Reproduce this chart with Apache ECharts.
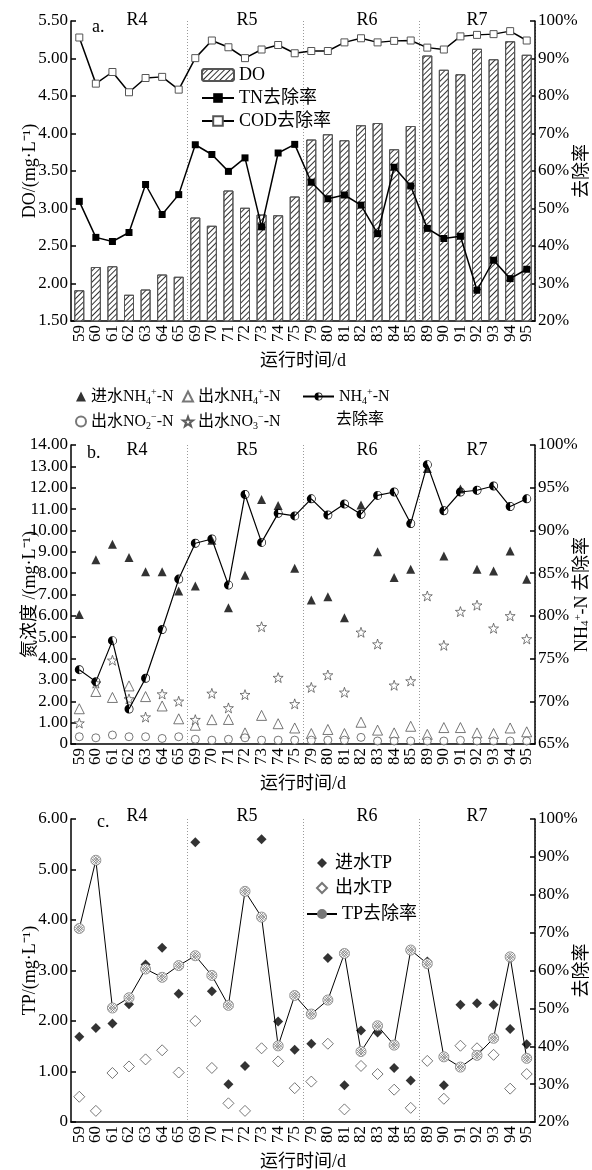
<!DOCTYPE html>
<html><head><meta charset="utf-8">
<script src="https://cdn.jsdelivr.net/npm/echarts@6/dist/echarts.min.js"></script>
<style>html,body{margin:0;padding:0;background:#fff}#c{width:592px;height:1170px}</style>
</head><body><div id="c"></div>
<script>
const days = ['59','60','61','62','63','64','65','69','70','71','72','73','74','75','79','80','81','82','83','84','85','89','90','91','92','93','94','95'];
const phases = ['R4','R5','R6','R7'];
const doValues = [1.91,2.22,2.23,1.85,1.92,2.12,2.09, 2.88,2.77,3.24,3.01,2.92,2.91,3.16, 3.92,3.99,3.91,4.11,4.14,3.79,4.10, 5.04,4.85,4.79,5.13,4.99,5.23,5.05];
const tnRemoval = [51.9,42.3,41.2,43.6,56.4,48.4,53.7, 67.0,64.4,59.9,63.5,45.1,64.8,67.1, 57.0,52.6,53.6,50.9,43.3,61.0,56.0, 44.7,42.0,42.6,28.2,36.2,31.3,33.8];
const codRemoval = [95.6,83.3,86.4,81.0,84.8,85.1,81.7, 90.1,94.8,93.0,90.1,92.4,93.6,91.4, 92.0,92.0,94.3,95.4,94.3,94.7,94.8, 92.9,92.4,95.9,96.3,96.5,97.3,94.8];
const nh4In = [6.06,8.63,9.35,8.73,8.07,8.07,7.16, 7.40,9.54,6.38,7.90,11.45,11.17,8.23, 6.74,6.90,5.91,11.19,9.00,7.80,8.18, 12.9,8.80,11.94,8.18,8.10,9.04,7.71];
const nh4Out = [1.65,2.46,2.18,2.72,2.22,1.78,1.18, 0.88,1.14,1.15,0.52,1.34,0.95,0.75, 0.49,0.68,0.49,1.02,0.65,0.52,0.83, 0.45,0.77,0.77,0.52,0.49,0.75,0.57];
const no2Out = [0.34,0.29,0.42,0.34,0.34,0.26,0.34, 0.22,0.18,0.22,0.29,0.18,0.18,0.18, 0.18,0.18,0.18,0.31,0.14,0.14,0.14, 0.14,0.14,0.17,0.14,0.14,0.14,0.14];
const no3Out = [0.98,2.85,3.92,2.11,1.26,2.34,2.00, 1.14,2.37,1.69,2.31,5.49,3.11,1.88, 2.65,3.23,2.42,5.23,4.68,2.75,2.95, 6.93,4.62,6.20,6.50,5.42,6.00,4.92];
const nh4Removal = [73.7,72.3,77.1,69.1,72.7,78.4,84.3, 88.5,89.0,83.6,94.2,88.6,92.0,91.7, 93.7,91.8,93.1,91.9,94.1,94.5,90.8, 97.7,92.3,94.5,94.7,95.2,92.8,93.7];
const tpIn = [1.69,1.86,1.95,2.33,3.12,3.45,2.54, 5.54,2.59,0.75,1.11,5.60,1.99,1.43, 1.55,3.25,0.73,1.81,1.77,1.07,0.82, 3.18,0.73,2.32,2.35,2.32,1.84,1.54];
const tpOut = [0.50,0.22,0.97,1.10,1.24,1.42,0.98, 2.00,1.07,0.37,0.22,1.46,1.20,0.67, 0.80,1.55,0.25,1.11,0.95,0.64,0.28, 1.21,0.46,1.51,1.46,1.33,0.66,0.95];
const tpRemoval = [71.1,89.1,50.1,52.8,60.4,58.2,61.3, 63.9,58.7,50.8,80.9,74.1,40.1,53.4, 48.5,52.2,64.5,38.6,45.4,40.3,65.4, 61.8,37.2,34.5,37.6,42.1,63.6,36.8];

const serif = "'Liberation Serif','Noto Sans CJK SC',serif";
const NH4 = 'NH\u2084\u207A-N', NO2 = 'NO\u2082\u207B-N', NO3 = 'NO\u2083\u207B-N';
const unit = '(mg\u00B7L\u207B\u00B9)';
const richNH4 = '{n|NH}{s|4}{p|+}{n|-N}';
const richLabel = {
  [ '进水' + NH4 ]: '{n|进水}' + richNH4,
  [ '出水' + NH4 ]: '{n|出水}' + richNH4,
  [ '出水' + NO2 ]: '{n|出水NO}{s|2}{p|\u2212}{n|-N}',
  [ '出水' + NO3 ]: '{n|出水NO}{s|3}{p|\u2212}{n|-N}',
  [ NH4 + '去除率' ]: richNH4
};
const rich = {
  n:{fontFamily:serif, fontSize:16, lineHeight:19, color:'#000'},
  s:{fontFamily:serif, fontSize:10, lineHeight:10, verticalAlign:'bottom', color:'#000'},
  p:{fontFamily:serif, fontSize:10, lineHeight:10, verticalAlign:'top', color:'#000'}
};

const boundaries = [];
for (let i = 1; i < days.length; i++) if (+days[i] - +days[i-1] > 1) boundaries.push(i);

const halfCircle = 'path://M10,0 A10,10 0 1,1 10,20 A10,10 0 1,1 10,0 Z M10,1.6 A8.4,8.4 0 1,0 10,18.4 A8.4,8.4 0 1,0 10,1.6 Z M10,1.6 A8.4,8.4 0 0,0 10,18.4 Z';
const star = 'path://M10,0.5 L12.35,7.26 L19.51,7.41 L13.8,11.74 L15.88,18.59 L10,14.5 L4.12,18.59 L6.2,11.74 L0.49,7.41 L7.65,7.26 Z';
const crossCircle = 'path://M10,0 A10,10 0 1,1 10,20 A10,10 0 1,1 10,0 Z M3,3 L17,17 M17,3 L3,17 M6,1 L19,14 M1,6 L14,19 M14,1 L1,14 M19,6 L6,19';

const grids = [{top:21,height:300},{top:445,height:299},{top:819,height:303}];
const black = '#000';
const axisLine = {show:true, lineStyle:{color:black, width:1.5}};
const tick = {show:true, inside:true, length:5, lineStyle:{color:black, width:1.5}};
const fmt2 = v => v === 0 ? '0' : v.toFixed(2);

function xAxis(g){
  return {type:'category', gridIndex:g, data:days, boundaryGap:true,
    axisLine, axisTick:{show:false},
    axisLabel:{rotate:90, interval:0, fontFamily:serif, fontSize:17, color:black, margin:4},
    splitLine:{show:true, interval:(i)=>boundaries.indexOf(i)>=0, lineStyle:{color:'#999', type:[1,2], width:1}},
    name:'运行时间/d', nameLocation:'middle', nameGap:31, nameMoveOverlap:false,
    nameTextStyle:{fontFamily:serif, fontSize:18, color:black}};
}
function yAxis(g, pos, min, max, interval, fmt, name, gap){
  return {type:'value', gridIndex:g, position:pos, min, max, interval,
    axisLine, axisTick:tick, splitLine:{show:false},
    axisLabel:{formatter:fmt, fontFamily:serif, fontSize:17, color:black, margin:3},
    name, nameLocation:'middle', nameGap:gap, nameRotate:90, nameMoveOverlap:false,
    nameTextStyle:{fontFamily:serif, fontSize:18, color:black,
      rich:{n:{fontFamily:serif, fontSize:18, color:black}, s:{fontFamily:serif, fontSize:11, verticalAlign:'bottom', lineHeight:11, color:black}, p:{fontFamily:serif, fontSize:11, verticalAlign:'top', lineHeight:11, color:black}}}};
}
const pct = v => v + '%';

const legendText = {fontFamily:serif, fontSize:18, color:black};
const richLegendText = {fontFamily:serif, fontSize:16, color:black, rich};
const graphics = [];
function txt(x, y, text, align, size){
  graphics.push({type:'text', x, y, style:{text, textAlign:align||'center', textVerticalAlign:'middle', verticalAlign:'middle', font:(size||18)+'px ' + serif, fill:black}});
}
const phaseX = [137, 247, 367, 477];
[[20,'a.',27],[450,'b.',453],[816,'c.',822]].forEach(([y, lab, ly], k) => {
  phases.forEach((p, i) => txt(phaseX[i], y, p));
  txt([92, 87, 97][k], ly, lab, 'left');
});
txt(360, 420, '去除率', 'center', 16);

const option = {
  animation:false,
  backgroundColor:'#fff',
  grid: grids.map(g => ({left:71, right:57, top:g.top, height:g.height, outerBoundsMode:'none', containLabel:false})),
  xAxis:[xAxis(0), xAxis(1), xAxis(2)],
  yAxis:[
    yAxis(0,'left',1.5,5.5,0.5,fmt2,'DO/'+unit,32),
    yAxis(0,'right',20,100,10,pct,'去除率',38),
    yAxis(1,'left',0,14,1,fmt2,'氮浓度 /'+unit,32),
    yAxis(1,'right',65,100,5,pct,'{n|NH}{s|4}{p|+}{n|-N 去除率}',38),
    yAxis(2,'left',0,6,1,fmt2,'TP/'+unit,32),
    yAxis(2,'right',20,100,10,pct,'去除率',38)
  ],
  legend:[
    {left:196, top:61, orient:'vertical', itemWidth:32, itemHeight:12, itemGap:5, data:['DO','TN去除率','COD去除率'], textStyle:legendText},
    {left:70, top:382, orient:'vertical', itemWidth:10, itemHeight:10, itemGap:6, data:['进水'+NH4,'出水'+NO2], formatter:n=>richLabel[n], textStyle:richLegendText},
    {left:177, top:382, orient:'vertical', itemWidth:10, itemHeight:10, itemGap:6, data:['出水'+NH4,'出水'+NO3], formatter:n=>richLabel[n], textStyle:richLegendText},
    {left:297, top:382, orient:'vertical', itemWidth:31, itemHeight:10, data:[NH4+'去除率'], formatter:n=>richLabel[n], textStyle:richLegendText},
    {left:311, top:849, orient:'vertical', itemWidth:10, itemHeight:10, itemGap:7, data:['进水TP','出水TP'], textStyle:Object.assign({padding:[0,0,0,3]}, legendText)},
    {left:301, top:900, orient:'vertical', itemWidth:30, itemHeight:10, data:['TP去除率'], textStyle:legendText}
  ],
  graphic: graphics,
  series:[
    {type:'bar', name:'DO', xAxisIndex:0, yAxisIndex:0, data:doValues, barWidth:10,
      itemStyle:{color:'#fff', borderColor:'#555', borderWidth:1,
        decal:{symbol:'rect', symbolSize:1, dashArrayX:[1,0], dashArrayY:[1,2.2], rotation:-Math.PI/4, color:'#333'}}},
    {type:'line', name:'TN去除率', xAxisIndex:0, yAxisIndex:1, data:tnRemoval, symbol:'rect', symbolSize:7,
      lineStyle:{color:black, width:1.5}, itemStyle:{color:black}, z:4},
    {type:'line', name:'COD去除率', xAxisIndex:0, yAxisIndex:1, data:codRemoval, symbol:'rect', symbolSize:7,
      lineStyle:{color:black, width:1.5}, itemStyle:{color:'#fff', borderColor:'#555', borderWidth:1}, z:4},

    {type:'scatter', name:'进水'+NH4, xAxisIndex:1, yAxisIndex:2, data:nh4In, symbol:'triangle', symbolSize:9, itemStyle:{color:black}},
    {type:'scatter', name:'出水'+NH4, xAxisIndex:1, yAxisIndex:2, data:nh4Out, symbol:'triangle', symbolSize:10, itemStyle:{color:'#fff', borderColor:'#555', borderWidth:1}},
    {type:'scatter', name:'出水'+NO2, xAxisIndex:1, yAxisIndex:2, data:no2Out, symbol:'circle', symbolSize:8, itemStyle:{color:'#fff', borderColor:'#555', borderWidth:1}},
    {type:'scatter', name:'出水'+NO3, xAxisIndex:1, yAxisIndex:2, data:no3Out, symbol:star, symbolSize:10, itemStyle:{color:'#fff', borderColor:'#333', borderWidth:0.8}},
    {type:'line', name:NH4+'去除率', xAxisIndex:1, yAxisIndex:3, data:nh4Removal, symbol:halfCircle, symbolSize:9,
      lineStyle:{color:black, width:1.2}, itemStyle:{color:black}, z:4},

    {type:'scatter', name:'进水TP', xAxisIndex:2, yAxisIndex:4, data:tpIn, symbol:'diamond', symbolSize:10, itemStyle:{color:black}},
    {type:'scatter', name:'出水TP', xAxisIndex:2, yAxisIndex:4, data:tpOut, symbol:'diamond', symbolSize:11, itemStyle:{color:'#fff', borderColor:'#555', borderWidth:1}},
    {type:'line', name:'TP去除率', xAxisIndex:2, yAxisIndex:5, data:tpRemoval, symbol:crossCircle, symbolSize:10,
      lineStyle:{color:black, width:1}, itemStyle:{color:'#fff', borderColor:'#777', borderWidth:0.8}, z:4}
  ]
};
const chart = echarts.init(document.getElementById('c'), null, {renderer:'canvas'});
chart.setOption(option);
</script></body></html>
